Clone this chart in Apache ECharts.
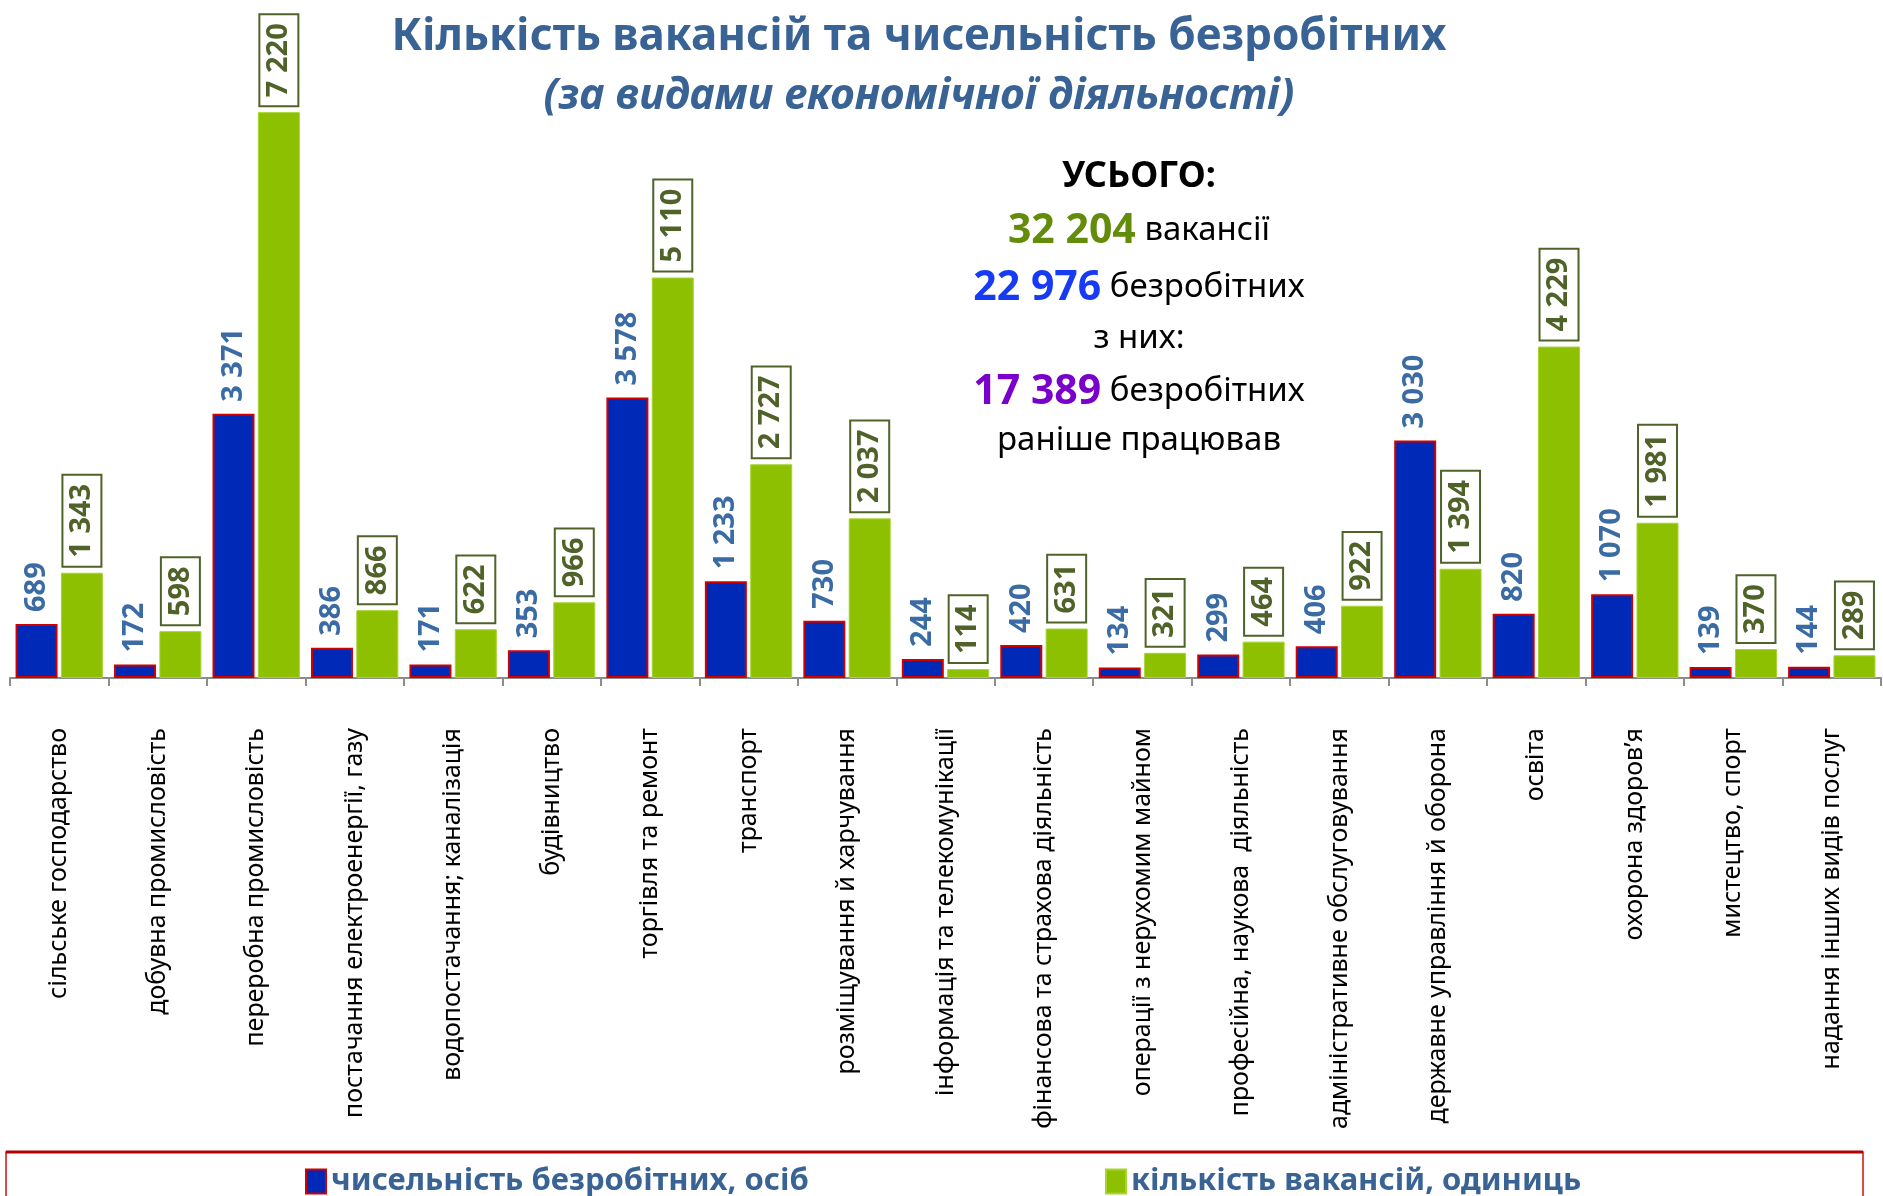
<!DOCTYPE html>
<html>
<head>
<meta charset="utf-8">
<script src="https://cdn.jsdelivr.net/npm/echarts@6/dist/echarts.min.js"></script>
<style>
html, body { margin: 0; padding: 0; background: #fff; }
#chart { width: 1883px; height: 1196px; }
</style>
</head>
<body>
<div id="chart"></div>
<script>
var categories = [
    'сільське господарство',
    'добувна промисловість',
    'переробна промисловість',
    'постачання електроенергії, газу',
    'водопостачання; каналізація',
    'будівництво',
    'торгівля та ремонт',
    'транспорт',
    'розміщування й харчування',
    'інформація та телекомунікації',
    'фінансова та страхова діяльність',
    'операції з нерухомим майном',
    'професійна, наукова  діяльність',
    'адміністративне обслуговування',
    'державне управління й оборона',
    'освіта',
    'охорона здоров’я',
    'мистецтво, спорт',
    'надання інших видів послуг'
];
var unemployed = [689, 172, 3371, 386, 171, 353, 3578, 1233, 730, 244, 420, 134, 299, 406, 3030, 820, 1070, 139, 144];
var vacancies = [1343, 598, 7220, 866, 622, 966, 5110, 2727, 2037, 114, 631, 321, 464, 922, 1394, 4229, 1981, 370, 289];
var seriesNames = ['чисельність безробітних, осіб', 'кількість вакансій, одиниць'];
var totalVacancies = 32204;
var totalUnemployed = 22976;
var totalWorkedBefore = 17389;

var FONT = '"Noto Sans", "Open Sans", sans-serif';

// число з пробілом між тисячами: 7220 -> "7 220"
function fmt(v) {
    return String(v).replace(/\B(?=(\d{3})+(?!\d))/g, ' ');
}

window.onload = () => {
    var myChart = echarts.init(document.getElementById('chart'));

    var legendText = { fontSize: 31, fontWeight: 'bold', color: '#3A6395', fontFamily: FONT };

    var option = {
        backgroundColor: '#fff',
        animation: false,
        textStyle: { fontFamily: FONT },
        title: [{
            text: 'Кількість вакансій та чисельність безробітних',
            left: 914,
            top: 10,
            textAlign: 'center',
            textStyle: { fontSize: 44, fontWeight: 'bold', color: '#3A6395', fontFamily: FONT }
        }, {
            text: '(за видами економічної діяльності)',
            left: 914,
            top: 70,
            textAlign: 'center',
            textStyle: { fontSize: 43, fontWeight: 'bold', fontStyle: 'italic', color: '#3A6395', fontFamily: FONT }
        }],
        grid: {
            left: 10,
            right: 2,
            top: 51,
            bottom: 518,
            containLabel: false,
            outerBoundsMode: 'none'
        },
        legend: [{
            data: [seriesNames[0]],
            icon: 'rect',
            left: 300,
            top: 1161,
            itemWidth: 20,
            itemHeight: 24,
            textStyle: legendText
        }, {
            data: [seriesNames[1]],
            icon: 'rect',
            left: 1100,
            top: 1161,
            itemWidth: 20,
            itemHeight: 24,
            textStyle: legendText
        }],
        xAxis: {
            type: 'category',
            data: categories,
            axisLine: { lineStyle: { color: '#8C8C8C', width: 2 } },
            axisTick: { show: true, length: 8, lineStyle: { color: '#8C8C8C', width: 2 } },
            axisLabel: {
                interval: 0,
                rotate: 90,
                margin: 50,
                fontSize: 25,
                color: '#000',
                fontFamily: FONT
            }
        },
        yAxis: {
            type: 'value',
            min: 0,
            max: 8000,
            show: false,
            splitLine: { show: false }
        },
        series: [{
            name: seriesNames[0],
            type: 'bar',
            data: unemployed,
            barWidth: 42,
            barGap: '8%',
            itemStyle: { color: '#0029B8', borderColor: '#D00000', borderWidth: 2 },
            label: {
                show: true,
                position: 'top',
                rotate: 90,
                align: 'left',
                verticalAlign: 'middle',
                distance: 12,
                formatter: p => fmt(p.value),
                fontSize: 29,
                fontWeight: 'bold',
                color: '#3A6BA5',
                fontFamily: FONT
            }
        }, {
            name: seriesNames[1],
            type: 'bar',
            data: vacancies,
            barWidth: 42,
            itemStyle: { color: '#8DC000', borderColor: '#A8D430', borderWidth: 1 },
            label: {
                show: true,
                position: 'top',
                rotate: 90,
                align: 'left',
                verticalAlign: 'middle',
                distance: 7,
                formatter: p => fmt(p.value),
                fontSize: 29,
                fontWeight: 'bold',
                color: '#4F6228',
                backgroundColor: '#fff',
                borderColor: '#4F6228',
                borderWidth: 2,
                padding: [4, 8, 4, 8],
                fontFamily: FONT
            }
        }],
        graphic: [
            // рамка легенди
            {
                type: 'rect',
                shape: { x: 6, y: 1152, width: 1857, height: 80 },
                style: { fill: 'none', stroke: '#D01010', lineWidth: 1.5 }
            },
            {
                type: 'line',
                shape: { x1: 6, y1: 1152, x2: 1863, y2: 1152 },
                style: { stroke: '#B00000', lineWidth: 3 }
            },
            // підсумки
            {
                type: 'text',
                x: 1139, y: 177,
                style: {
                    text: 'УСЬОГО:',
                    align: 'center', verticalAlign: 'middle',
                    font: 'bold 36px ' + FONT, fill: '#000'
                }
            },
            {
                type: 'text',
                x: 1139, y: 231,
                style: {
                    text: '{n|' + fmt(totalVacancies) + '}{w| вакансії}',
                    align: 'center', verticalAlign: 'middle',
                    rich: {
                        n: { fontSize: 41, fontWeight: 'bold', fill: '#638C0A', fontFamily: FONT },
                        w: { fontSize: 33, fill: '#000', fontFamily: FONT }
                    }
                }
            },
            {
                type: 'text',
                x: 1139, y: 288,
                style: {
                    text: '{n|' + fmt(totalUnemployed) + '}{w| безробітних}',
                    align: 'center', verticalAlign: 'middle',
                    rich: {
                        n: { fontSize: 41, fontWeight: 'bold', fill: '#173BF5', fontFamily: FONT },
                        w: { fontSize: 33, fill: '#000', fontFamily: FONT }
                    }
                }
            },
            {
                type: 'text',
                x: 1139, y: 339,
                style: {
                    text: 'з них:',
                    align: 'center', verticalAlign: 'middle',
                    font: '33px ' + FONT, fill: '#000'
                }
            },
            {
                type: 'text',
                x: 1139, y: 392,
                style: {
                    text: '{n|' + fmt(totalWorkedBefore) + '}{w| безробітних}',
                    align: 'center', verticalAlign: 'middle',
                    rich: {
                        n: { fontSize: 41, fontWeight: 'bold', fill: '#7A00CC', fontFamily: FONT },
                        w: { fontSize: 33, fill: '#000', fontFamily: FONT }
                    }
                }
            },
            {
                type: 'text',
                x: 1139, y: 441,
                style: {
                    text: 'раніше працював',
                    align: 'center', verticalAlign: 'middle',
                    font: '33px ' + FONT, fill: '#000'
                }
            }
        ]
    };
    myChart.setOption(option);
};
</script>
</body>
</html>
